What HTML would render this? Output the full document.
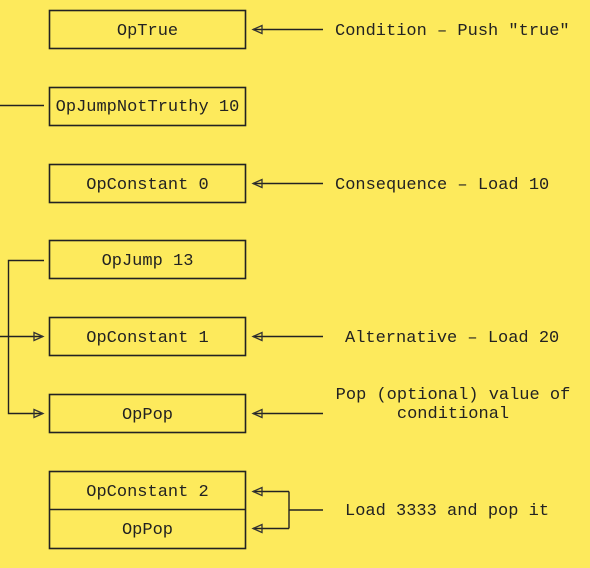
<!DOCTYPE html>
<html><head><style>
html,body{margin:0;padding:0;background:#fdea5c;}
svg{display:block;}
text{font-family:"Liberation Mono","DejaVu Sans Mono",monospace;font-size:17px;fill:#222;}
</style></head><body>
<svg width="590" height="568" viewBox="0 0 590 568" xmlns="http://www.w3.org/2000/svg">
<defs>
<marker id="a" markerWidth="12" markerHeight="10" refX="10" refY="5" orient="auto" markerUnits="userSpaceOnUse">
<path d="M1,1 L10,5 L1,9 Z" fill="none" stroke="#333" stroke-width="1.3"/>
</marker>
</defs>
<g fill="none" stroke="#222" stroke-width="1.6">
<rect x="49.5" y="10.5" width="196" height="38"/>
<rect x="49.5" y="87.5" width="196" height="38"/>
<rect x="49.5" y="164.5" width="196" height="38"/>
<rect x="49.5" y="240.5" width="196" height="38"/>
<rect x="49.5" y="317.5" width="196" height="38"/>
<rect x="49.5" y="394.5" width="196" height="38"/>
<rect x="49.5" y="471.5" width="196" height="77"/>
<line x1="49" y1="509.5" x2="246" y2="509.5"/>
</g>
<g fill="none" stroke="#222" stroke-width="1.4">
<line x1="323" y1="29.5" x2="253" y2="29.5" marker-end="url(#a)"/>
<line x1="323" y1="183.5" x2="253" y2="183.5" marker-end="url(#a)"/>
<line x1="323" y1="336.5" x2="253" y2="336.5" marker-end="url(#a)"/>
<line x1="323" y1="413.5" x2="253" y2="413.5" marker-end="url(#a)"/>
<line x1="0" y1="105.5" x2="44" y2="105.5"/>
<polyline points="44,260.5 8.5,260.5 8.5,413.5 43,413.5" marker-end="url(#a)"/>
<line x1="0" y1="336.5" x2="43" y2="336.5" marker-end="url(#a)"/>
<polyline points="289,491.5 289,528.5"/>
<line x1="289" y1="491.5" x2="253" y2="491.5" marker-end="url(#a)"/>
<line x1="289" y1="528.5" x2="253" y2="528.5" marker-end="url(#a)"/>
<line x1="289" y1="510" x2="323" y2="510"/>
</g>
<g text-anchor="middle">
<text x="147.5" y="35">OpTrue</text>
<text x="147.5" y="111">OpJumpNotTruthy 10</text>
<text x="147.5" y="189">OpConstant 0</text>
<text x="147.5" y="265">OpJump 13</text>
<text x="147.5" y="342">OpConstant 1</text>
<text x="147.5" y="419">OpPop</text>
<text x="147.5" y="496">OpConstant 2</text>
<text x="147.5" y="534">OpPop</text>
<text x="453" y="399">Pop (optional) value of</text>
<text x="453" y="418">conditional</text>
</g>
<text x="335" y="35">Condition – Push "true"</text>
<text x="335" y="189">Consequence – Load 10</text>
<text x="345" y="342">Alternative – Load 20</text>
<text x="345" y="515">Load 3333 and pop it</text>
</svg>
</body></html>
